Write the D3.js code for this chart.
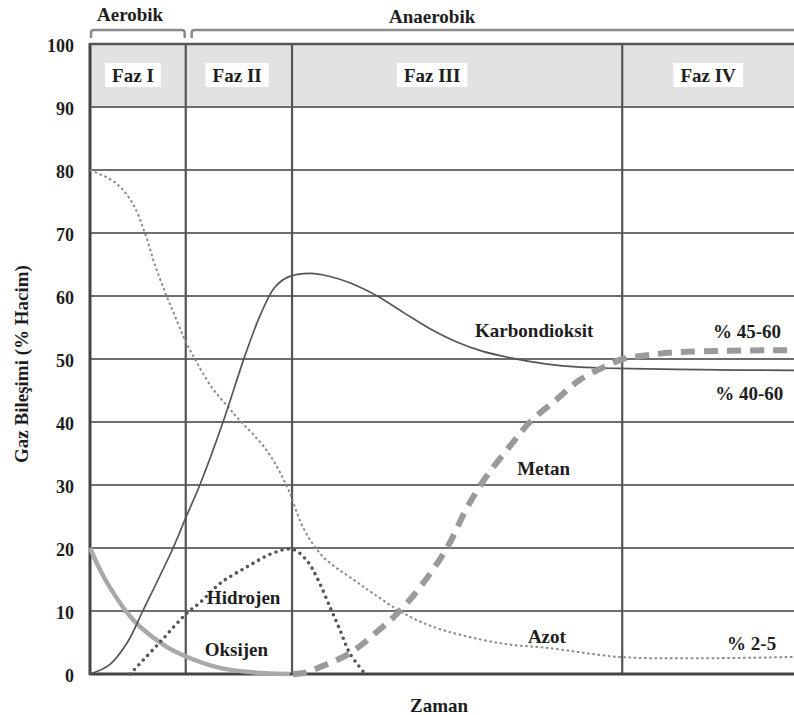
<!DOCTYPE html>
<html><head><meta charset="utf-8">
<script src="https://cdn.jsdelivr.net/npm/d3@7"></script>
<style>
html,body{margin:0;padding:0;background:#fff;}
svg{display:block;}
text{font-family:"Liberation Serif","Times New Roman",serif;font-weight:bold;fill:#1e1e1e;}
</style></head>
<body>
<svg id="chart" width="794" height="715"></svg>
<script>
// ---- data ----
const yTicks = [0,10,20,30,40,50,60,70,80,90,100];
const phaseBounds = [0, 13.6, 28.7, 75.6, 100];
const phaseNames = ["Faz I","Faz II","Faz III","Faz IV"];
const phaseLabelAt = [6.1, 20.9, 48.6, 87.8];
const regimes = [{name:"Aerobik", from:0, to:13.6}, {name:"Anaerobik", from:14.3, to:100}];

const co2 = [[0,0],[2.8,1.5],[5.3,5],[7.5,10],[11.8,20],[13.6,24.8],[15.6,30],[18.9,40],[22.0,50.5],[24.2,57],[26.2,61.3],[28.1,63],[31.3,63.6],[34.1,63.1],[36.9,62.1],[40.8,60],[44.5,57.4],[48.3,54.8],[52.1,52.7],[55.8,51.2],[60.1,50.1],[64.9,49.2],[69.6,48.7],[74.9,48.5],[86.6,48.3],[100,48.2]];
const o2 = [[0,20],[1.4,16.6],[2.8,13.8],[5.3,9.7],[7.1,7.5],[10.9,4.3],[13.8,2.7],[18.0,1.1],[22.7,0.3],[28.4,0]];
const h2 = [[5.7,0],[9.9,5],[13.8,9.7],[15.6,11.3],[18.5,14.4],[22.3,17],[26.0,19.2],[28.8,19.8],[30.8,18],[32.2,15.4],[34.1,10.6],[35.5,7],[36.9,3.3],[39.1,0]];
const n2 = [[0,80],[3.6,78],[6.0,74.8],[7.8,70],[9.2,65],[10.7,60.5],[12.1,56.7],[13.5,53],[14.9,50],[17.3,45.5],[19.6,42.4],[21.0,40.6],[25.1,35.5],[28.0,29.7],[30.3,23.2],[33.1,18.6],[37.4,15],[40.2,12.8],[44.0,10],[48.7,7.5],[58.2,4.9],[65.3,4.1],[75.3,2.7],[86.6,2.5],[100,2.7]];
const ch4 = [[28.8,0],[30.5,0.2],[32.7,1.1],[36.9,3.3],[41.6,7.5],[44.0,10],[46.9,13.8],[50.7,20],[53.6,26.5],[56.4,31.5],[60.1,36.8],[62.5,40],[66.3,43.6],[69.6,46.7],[74.3,49.4],[75.7,50],[79.1,50.6],[83.8,51.1],[98.0,51.4],[100,51.4]];

const annotations = [
  {text:"Karbondioksit", t:54.7, v:53.5},
  {text:"% 45-60", t:88.5, v:53.3},
  {text:"% 40-60", t:88.8, v:43.5},
  {text:"Metan", t:60.7, v:31.6},
  {text:"Azot", t:62.2, v:4.9},
  {text:"% 2-5", t:90.5, v:3.8},
  {text:"Hidrojen", t:16.6, v:11.1},
  {text:"Oksijen", t:16.3, v:2.9}
];

// ---- layout ----
const svg = d3.select("#chart");
const L = 90, R = 794, T = 44, B = 674;
const x = d3.scaleLinear().domain([0,100]).range([L,R]);
const y = d3.scaleLinear().domain([0,100]).range([B,T]);
const FS = 19;

// header band (90-100)
svg.append("rect").attr("x",L).attr("y",y(100)).attr("width",R-L).attr("height",y(90)-y(100)).attr("fill","#e2e2e2");

// horizontal gridlines
svg.append("g").selectAll("line").data(yTicks.filter(d=>d>0)).join("line")
  .attr("x1",L).attr("x2",R).attr("y1",d=>y(d)).attr("y2",d=>y(d))
  .attr("stroke","#6e6e6e").attr("stroke-width",2.2);

// phase separators
svg.append("g").selectAll("line").data(phaseBounds.slice(1,-1)).join("line")
  .attr("x1",d=>x(d)).attr("x2",d=>x(d)).attr("y1",y(100)).attr("y2",y(0))
  .attr("stroke","#555").attr("stroke-width",2.2);

// axes lines
svg.append("line").attr("x1",L).attr("x2",L).attr("y1",y(100)-1).attr("y2",y(0)+1).attr("stroke","#444").attr("stroke-width",3);
svg.append("line").attr("x1",L).attr("x2",R).attr("y1",y(0)).attr("y2",y(0)).attr("stroke","#444").attr("stroke-width",3);
svg.append("line").attr("x1",L).attr("x2",R).attr("y1",y(100)).attr("y2",y(100)).attr("stroke","#555").attr("stroke-width",2.5);

// y tick labels
const yAxis = d3.axisLeft(y).tickValues(yTicks).tickSize(0).tickPadding(16);
const ga = svg.append("g").attr("transform",`translate(${L},2)`).call(yAxis);
ga.select(".domain").remove();
ga.selectAll("text").attr("font-size",18).style("font-family","'Liberation Serif',serif").style("font-weight","bold").attr("fill","#1e1e1e");

// phase labels with white boxes
phaseNames.forEach((n,i)=>{
  const g = svg.append("g");
  const tx = g.append("text").attr("x",x(phaseLabelAt[i])).attr("y",82).attr("text-anchor","middle").attr("font-size",FS).text(n);
  const bb = tx.node().getBBox();
  g.insert("rect","text").attr("x",bb.x-7).attr("y",63).attr("width",bb.width+14).attr("height",24).attr("fill","#fff");
});

// regime brackets
regimes.forEach(r=>{
  const x0 = x(r.from), x1 = x(r.to);
  const p = d3.path();
  p.moveTo(x0+1, 38); p.lineTo(x0+1, 33); p.quadraticCurveTo(x0+1,30,x0+4,30);
  if (r.to < 100) { p.lineTo(x1-4,30); p.quadraticCurveTo(x1-1,30,x1-1,33); p.lineTo(x1-1,38); }
  else p.lineTo(x1,30);
  svg.append("path").attr("d",p.toString()).attr("fill","none").attr("stroke","#8a8a8a").attr("stroke-width",2.5);
});
svg.append("text").attr("x",97).attr("y",21).attr("font-size",FS).text(regimes[0].name);
svg.append("text").attr("x",389).attr("y",23).attr("font-size",FS).text(regimes[1].name);

// curves
const line = d3.line().x(d=>x(d[0])).y(d=>y(d[1])).curve(d3.curveCatmullRom.alpha(0.5));
svg.append("path").datum(n2).attr("d",line).attr("fill","none").attr("stroke","#8c8c8c").attr("stroke-width",2).attr("stroke-dasharray","2.6,2.6");
svg.append("path").datum(o2).attr("d",line).attr("fill","none").attr("stroke","#a9a9a9").attr("stroke-width",4.5);
svg.append("path").datum(co2).attr("d",line).attr("fill","none").attr("stroke","#555").attr("stroke-width",1.7);
svg.append("path").datum(h2).attr("d",line).attr("fill","none").attr("stroke","#555").attr("stroke-width",3.6).attr("stroke-dasharray","0,6.4").attr("stroke-linecap","round");
svg.append("path").datum(ch4).attr("d",line).attr("fill","none").attr("stroke","#9a9a9a").attr("stroke-width",6).attr("stroke-dasharray","14,9");

// annotations
svg.append("g").selectAll("text").data(annotations).join("text")
  .attr("x",d=>x(d.t)).attr("y",d=>y(d.v)).attr("font-size",FS).text(d=>d.text);

// axis titles
svg.append("text").attr("x",439).attr("y",712).attr("text-anchor","middle").attr("font-size",FS).text("Zaman");
svg.append("text").attr("transform","translate(28,364) rotate(-90)").attr("text-anchor","middle").attr("font-size",FS).text("Gaz Bileşimi (% Hacim)");
</script>
</body></html>
